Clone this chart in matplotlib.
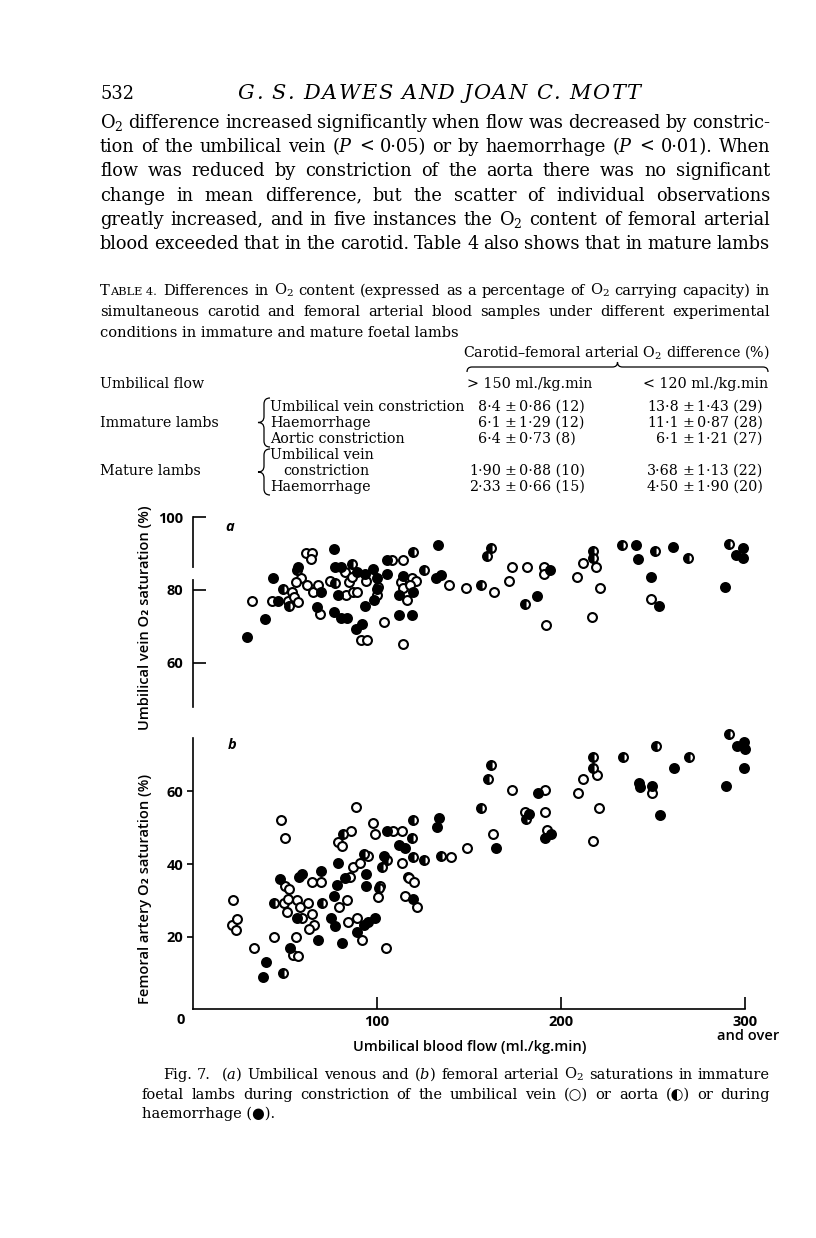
import matplotlib
matplotlib.use('Agg')
import matplotlib.pyplot as plt
from matplotlib.path import Path
from matplotlib.patches import PathPatch

plt.rcParams['font.family'] = ['DejaVu Serif', 'DejaVu Sans']
plt.rcParams['mathtext.fontset'] = 'dejavuserif'

SANS = ['Open Sans', 'DejaVu Sans']

# ---- Fig. 7a: umbilical vein O2 saturation (%) vs umbilical flow (ml/kg.min)
a_open_x = [32.2, 43.1, 51.4, 53.8, 55.1, 57.2, 58.7, 56.0, 61.4, 64.5, 64.1, 61.8, 65.0, 68.1,
            69.0, 74.5, 82.6, 84.8, 83.2, 87.1, 88.9, 91.3, 94.4, 94.0, 100.7, 100.2, 108.0,
            104.0, 114.3, 114.3, 113.0, 114.3, 116.1, 118.8, 121.2, 117.9, 139.3, 86.6,
            148.4, 163.4, 173.2, 171.9, 181.3, 191.0, 191.0, 191.9, 208.7, 211.8, 219.0,
            221.0, 217.0, 249.1]
a_open_y = [77.1, 77.1, 77.1, 79.4, 78.2, 76.8, 83.4, 82.2, 90.3, 90.3, 88.4, 81.4, 79.4, 81.4,
            73.3, 82.5, 85.0, 82.1, 78.5, 79.4, 79.4, 66.3, 66.3, 82.5, 80.9, 78.5, 88.3,
            71.3, 88.3, 65.1, 82.3, 80.6, 77.2, 83.4, 82.5, 81.4, 81.4, 83.6,
            80.5, 79.4, 86.4, 82.5, 86.4, 86.4, 84.3, 70.4, 83.6, 87.5, 86.4,
            80.5, 72.5, 77.4]
a_half_x = [48.7, 52.4, 56.7, 77.0, 86.4, 119.4, 125.5, 156.3, 161.8, 160.0, 180.4, 217.2,
            217.2, 233.0, 251.1, 269.2, 291.3]
a_half_y = [80.2, 75.6, 85.4, 81.8, 87.1, 90.5, 85.4, 81.4, 91.5, 89.4, 76.2, 90.7,
            88.7, 92.4, 90.6, 88.7, 92.7]
a_fill_x = [29.2, 39.1, 43.3, 46.4, 57.2, 69.4, 67.2, 76.4, 76.8, 77.0, 80.6, 79.0, 80.3, 83.5,
            88.4, 92.0, 93.3, 88.9, 93.3, 98.0, 100.2, 99.8, 98.4, 105.3, 105.3, 112.1, 119.2,
            111.9, 113.9, 119.4, 133.3, 132.0, 134.6,
            187.1, 194.0, 240.8, 241.8, 261.0, 249.1, 253.3, 299.1, 295.1, 299.1, 289.4]
a_fill_y = [67.0, 72.1, 83.3, 77.1, 86.4, 79.4, 75.4, 74.0, 91.3, 86.3, 86.3, 78.5, 72.2, 72.2,
            69.3, 70.6, 75.7, 85.0, 84.3, 85.7, 83.2, 80.2, 77.2, 84.3, 88.3, 73.1, 73.1,
            78.5, 83.8, 79.4, 92.4, 83.4, 84.1,
            78.4, 85.4, 92.4, 88.5, 91.7, 83.7, 75.6, 91.5, 89.6, 88.7, 80.8]

# ---- Fig. 7b: femoral artery O2 saturation (%) vs umbilical flow
b_open_x = [47.8, 50.0, 88.8, 79.0, 81.0, 85.7, 98.0, 98.9, 108.9, 113.8, 95.3, 86.8, 90.8,
            113.8, 140.0, 117.0,
            21.9, 21.0, 24.1, 23.2, 33.2, 44.0, 50.0, 52.4, 49.5, 50.9, 51.8, 56.3, 58.2, 56.0,
            54.5, 57.2, 59.4, 62.7, 64.9, 65.9, 63.0, 64.5, 69.4, 79.5, 83.9, 85.3, 84.4, 88.9,
            92.0, 100.7, 101.6, 104.9, 115.2, 117.6, 120.1, 121.9,
            148.7, 163.2, 173.5, 191.3, 180.4, 191.3, 192.2, 209.4, 212.1, 219.7, 220.8,
            217.2, 249.6]
b_open_y = [52.1, 47.1, 55.6, 46.1, 45.1, 49.2, 51.2, 48.2, 49.2, 49.2, 42.2, 39.2, 40.2,
            40.2, 42.0, 36.4,
            30.1, 23.2, 25.0, 21.9, 17.0, 20.0, 34.0, 33.1, 29.2, 26.9, 30.4, 30.1, 28.1, 20.0,
            15.0, 14.8, 25.1, 29.2, 26.2, 23.2, 22.2, 35.1, 35.1, 28.1, 30.1, 36.5, 24.0, 25.1,
            19.1, 31.0, 34.0, 17.0, 31.3, 36.1, 35.1, 28.1,
            44.3, 48.3, 60.4, 60.4, 54.4, 54.4, 49.4, 59.5, 63.3, 64.5, 55.5,
            46.3, 59.6]
b_half_x = [81.7, 119.8, 119.2, 93.1, 105.3, 102.7, 119.8, 125.5, 134.6, 48.7, 44.0, 69.9,
            101.0, 156.5, 160.5, 162.1, 181.0, 217.2, 217.2, 233.5, 251.6, 269.6, 291.5]
b_half_y = [48.2, 52.1, 47.2, 42.9, 41.1, 39.1, 42.0, 41.1, 42.2, 9.9, 29.2, 29.2,
            33.3, 55.3, 63.3, 67.3, 52.3, 66.5, 69.5, 69.5, 72.5, 69.5, 75.7]
b_fill_x = [105.3, 133.7, 132.4, 112.1, 115.2, 79.0, 104.0,
            39.7, 37.9, 47.3, 56.3, 57.6, 59.1, 52.9, 69.6, 68.1, 74.8, 77.2, 76.8, 78.0, 82.6,
            88.9, 81.2, 93.8, 94.0, 93.1, 94.9, 98.9, 119.7,
            164.5, 187.3, 182.6, 191.3, 194.4, 242.2, 243.0, 249.6, 253.8, 261.6, 299.5,
            295.5, 299.8, 299.5, 289.6]
b_fill_y = [49.2, 52.6, 50.3, 45.2, 44.3, 40.2, 42.2,
            13.0, 8.8, 35.9, 25.1, 36.5, 37.4, 17.0, 38.1, 19.1, 25.1, 23.0, 31.2, 34.2, 36.1,
            21.2, 18.2, 37.3, 34.0, 23.2, 24.1, 25.2, 30.4,
            44.3, 59.5, 53.9, 47.2, 48.3, 62.4, 61.3, 61.6, 53.5, 66.5, 73.5,
            72.6, 71.6, 66.5, 61.6]

# ---- Table 4 values
row_groups = ['Immature lambs', 'Mature lambs']
col_heads = ['> 150 ml./kg.min', '< 120 ml./kg.min']
hi_flow = [('8·4', '0·86 (12)'), ('6·1', '1·29 (12)'), ('6·4', '0·73 (8)'),
           ('1·90', '0·88 (10)'), ('2·33', '0·66 (15)')]
lo_flow = [('13·8', '1·43 (29)'), ('11·1', '0·87 (28)'), ('6·1', '1·21 (27)'),
           ('3·68', '1·13 (22)'), ('4·50', '1·90 (20)')]

W, H = 816, 1238
fig = plt.figure(figsize=(W / 100, H / 100), dpi=100)
page = fig.add_axes([0, 0, 1, 1])
page.set_xlim(0, W)
page.set_ylim(H, 0)
page.axis('off')
R = fig.canvas.get_renderer()


def box(x0, y0, x1, y1):
    return [x0 / W, 1 - y1 / H, (x1 - x0) / W, (y1 - y0) / H]


def justify(line, x0, x1, y, size, **kw):
    words = line.split(' ')
    ts = [page.text(0, y, w, fontsize=size, va='baseline', **kw) for w in words]
    ws = [t.get_window_extent(R).width for t in ts]
    gap = (x1 - x0 - sum(ws)) / (len(ws) - 1)
    x = x0
    for t, w in zip(ts, ws):
        t.set_x(x)
        x += w + gap


def spaced(line, x0, x1, y, size, **kw):
    # letter-spaced capitals for the running head
    words = line.split(' ')
    chars = [[page.text(0, y, c, fontsize=size, va='baseline', **kw) for c in w] for w in words]
    cw = [[t.get_window_extent(R).width for t in w] for w in chars]
    sp = 0.5 * size
    n = sum(len(w) for w in cw) - 1
    track = (x1 - x0 - sum(sum(w) for w in cw) - sp * (len(words) - 1)) / n
    x = x0
    for w, ws in zip(chars, cw):
        for t, c in zip(w, ws):
            t.set_x(x)
            x += c + track
        x += sp


def vbrace(x, y0, y1, w=6):
    ym = (y0 + y1) / 2
    verts = [(x + w, y0), (x, y0), (x, y0 + w), (x, ym - w), (x, ym), (x - w, ym),
             (x, ym), (x, ym + w), (x, y1 - w), (x, y1), (x + w, y1)]
    codes = [Path.MOVETO, Path.CURVE3, Path.CURVE3, Path.LINETO, Path.CURVE3, Path.CURVE3,
             Path.CURVE3, Path.CURVE3, Path.LINETO, Path.CURVE3, Path.CURVE3]
    page.add_patch(PathPatch(Path(verts, codes), fill=False, lw=0.9, color='black'))


def hbrace(x0, x1, y, h=5):
    xm = (x0 + x1) / 2
    verts = [(x0, y + h), (x0, y), (x0 + h, y), (xm - h, y), (xm, y), (xm, y - h),
             (xm, y), (xm + h, y), (x1 - h, y), (x1, y), (x1, y + h)]
    codes = [Path.MOVETO, Path.CURVE3, Path.CURVE3, Path.LINETO, Path.CURVE3, Path.CURVE3,
             Path.CURVE3, Path.CURVE3, Path.LINETO, Path.CURVE3, Path.CURVE3]
    page.add_patch(PathPatch(Path(verts, codes), fill=False, lw=0.9, color='black'))


# ---- running head and body text
BODY = 12.8
page.text(100, 99, '532', fontsize=BODY, va='baseline')
spaced('G. S. DAWES AND JOAN C. MOTT', 238, 640, 99, 15.0, style='italic')

para = ['O$_2$ difference increased significantly when flow was decreased by constric-',
        'tion of the umbilical vein ($P$ < 0·05) or by haemorrhage ($P$ < 0·01). When',
        'flow was reduced by constriction of the aorta there was no significant',
        'change in mean difference, but the scatter of individual observations',
        'greatly increased, and in five instances the O$_2$ content of femoral arterial',
        'blood exceeded that in the carotid. Table 4 also shows that in mature lambs']
for i, line in enumerate(para):
    justify(line, 100, 770, 128 + i * 24.2, BODY)

# ---- table caption
TS = 10.5
t1 = page.text(100, 295, 'T', fontsize=TS, va='baseline')
xe = 100 + t1.get_window_extent(R).width
t2 = page.text(xe, 295, 'ABLE 4.', fontsize=TS * 0.78, va='baseline')
xe += t2.get_window_extent(R).width + 7
justify('Differences in O$_2$ content (expressed as a percentage of O$_2$ carrying capacity) in',
        xe, 770, 295, TS)
justify('simultaneous carotid and femoral arterial blood samples under different experimental',
        100, 770, 316, TS)
page.text(100, 337, 'conditions in immature and mature foetal lambs', fontsize=TS, va='baseline')

# ---- table body
TB = 10.3
page.text(770, 357, 'Carotid–femoral arterial O$_2$ difference (%)', fontsize=TB,
          va='baseline', ha='right')
hbrace(467, 768, 367)
page.text(100, 388, 'Umbilical flow', fontsize=TB, va='baseline')
page.text(467, 388, col_heads[0], fontsize=TB, va='baseline')
page.text(768, 388, col_heads[1], fontsize=TB, va='baseline', ha='right')

row_y = [411, 427, 443, 475, 491]
labels = [(270, 411, 'Umbilical vein constriction'), (270, 427, 'Haemorrhage'),
          (270, 443, 'Aortic constriction'), (270, 459, 'Umbilical vein'),
          (283, 475, 'constriction'), (270, 491, 'Haemorrhage')]
for x, y, s in labels:
    page.text(x, y, s, fontsize=TB, va='baseline')
page.text(100, 427, row_groups[0], fontsize=TB, va='baseline')
page.text(100, 475, row_groups[1], fontsize=TB, va='baseline')
vbrace(264, 398, 447)
vbrace(264, 449, 495)
for y, (a1, b1), (a2, b2) in zip(row_y, hi_flow, lo_flow):
    for xpm, a, b in [(510, a1, b1), (688, a2, b2)]:
        page.text(xpm - 9, y, a, fontsize=TB, va='baseline', ha='right')
        page.text(xpm, y, '±', fontsize=TB, va='baseline', ha='center')
        page.text(xpm + 9, y, b, fontsize=TB, va='baseline', ha='left')

# ---- the two scatter panels
mk = dict(ls='none', marker='o', ms=6.4, mew=1.5, mec='black', clip_on=False)


def draw_points(ax, ox, oy, hx, hy, fx, fy):
    ax.plot(ox, oy, mfc='white', **mk)
    ax.plot(hx, hy, mfc='black', fillstyle='left', markerfacecoloralt='white', **mk)
    ax.plot(fx, fy, mfc='black', **mk)


def sans_ticks(ax):
    for lab in ax.get_xticklabels() + ax.get_yticklabels():
        lab.set_fontfamily(SANS)
        lab.set_fontweight('bold')
        lab.set_fontsize(10.5)


ax1 = fig.add_axes(box(193, 510, 745, 707))
ax1.set_facecolor('none')
ax1.set_xlim(0, 300)
ax1.set_ylim(47.8, 102.0)
for s in ['top', 'right', 'bottom']:
    ax1.spines[s].set_visible(False)
ax1.spines['left'].set_bounds(47.8, 100)
ax1.spines['left'].set_linewidth(1.2)
ax1.set_xticks([])
ax1.set_yticks([60, 80, 100])
ax1.tick_params(axis='y', direction='in', length=9, width=1.2, pad=7)
ax1.plot([0, 0], [83.6, 85.4], color='white', lw=3, clip_on=False, zorder=3)
draw_points(ax1, a_open_x, a_open_y, a_half_x, a_half_y, a_fill_x, a_fill_y)
sans_ticks(ax1)

ax2 = fig.add_axes(box(193, 738, 745, 1009.4))
ax2.set_facecolor('none')
ax2.set_xlim(0, 300)
ax2.set_ylim(0, 74.7)
for s in ['top', 'right']:
    ax2.spines[s].set_visible(False)
for s in ['left', 'bottom']:
    ax2.spines[s].set_linewidth(1.2)
ax2.set_yticks([20, 40, 60])
ax2.set_xticks([100, 200, 300])
ax2.tick_params(axis='y', direction='out', length=4, width=1.2, pad=3)
ax2.tick_params(axis='x', direction='in', length=9, width=1.2, pad=4)
draw_points(ax2, b_open_x, b_open_y, b_half_x, b_half_y, b_fill_x, b_fill_y)
sans_ticks(ax2)

page.text(225, 531, 'a', fontsize=10.5, family=SANS, style='italic', fontweight='bold')
page.text(228, 749, 'b', fontsize=10.5, family=SANS, style='italic', fontweight='bold')
page.text(181, 1020, '0', fontsize=10.5, family=SANS, fontweight='bold', ha='center',
          va='center')
page.text(748, 1036, 'and over', fontsize=10.5, family=SANS, fontweight='semibold',
          ha='center', va='center')
page.text(470, 1047, 'Umbilical blood flow (ml./kg.min)', fontsize=10.5, family=SANS,
          fontweight='semibold', ha='center', va='center')
page.text(145, 618, 'Umbilical vein O₂ saturation (%)', fontsize=10.5, family=SANS,
          fontweight='semibold', rotation=90, ha='center', va='center')
page.text(145, 889, 'Femoral artery O₂ saturation (%)', fontsize=10.5, family=SANS,
          fontweight='semibold', rotation=90, ha='center', va='center')

# ---- figure caption
justify('Fig. 7.  ($\\mathit{a}$) Umbilical venous and ($\\mathit{b}$) femoral arterial O$_2$ '
        'saturations in immature', 163, 770, 1079, TS)
justify('foetal lambs during constriction of the umbilical vein (○) or aorta (◐) or during',
        142, 770, 1099, TS)
page.text(142, 1118, 'haemorrhage (●).', fontsize=TS, va='baseline')

fig.savefig('out.png', dpi=100)
